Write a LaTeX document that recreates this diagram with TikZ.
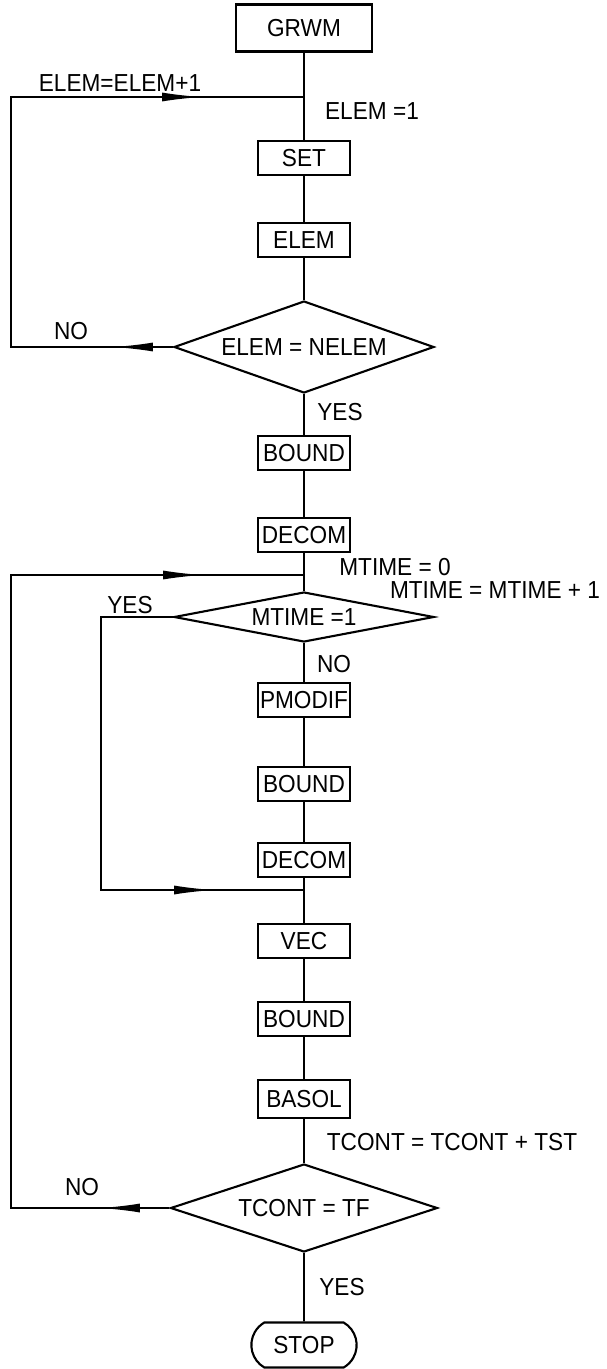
\documentclass[tikz,border=0pt]{standalone}
\usepackage{fontspec}
\setmainfont{Liberation Sans}[FakeStretch=0.92]
\usetikzlibrary{arrows.meta,shapes.geometric,shapes.misc}

\begin{document}
\begin{tikzpicture}[x=0.02cm,y=-0.02cm,
  font=\fontsize{14}{16}\selectfont,
  box/.style={draw,line width=1.2pt,minimum width=1.84cm,minimum height=0.68cm,inner sep=1pt},
  test/.style={draw,diamond,line width=1.2pt,inner sep=0pt},
  line/.style={line width=1pt},
  tip/.style={line width=1pt,-{Latex[length=0.8cm,width=0.18cm]}}]
\useasboundingbox (0,0) rectangle (607,1369);

% Start and element loop
\node[box,minimum width=2.72cm,minimum height=0.94cm] (grwm) at (304,28) {GRWM};
\node[box] (set) at (304,158) {SET};
\node[box] (elem) at (304,240) {ELEM};
\node[test,minimum width=5.2cm,minimum height=1.84cm,aspect=2.8] (nelem) at (304,347) {ELEM = NELEM};
\coordinate (j1) at (304,97);
\coordinate (c1a) at (11,347);
\coordinate (c1b) at (11,97);
\coordinate (t1) at (113,347);
\coordinate (t2) at (202,97);
\draw[line] (grwm) -- (set);
\draw[line] (set) -- (elem);
\draw[line] (elem) -- (nelem);
\draw[line] (nelem.west) -- (c1a) -- (c1b) -- (j1);
\draw[tip] (nelem.west) -- (t1);
\draw[tip] (c1b) -- (t2);
\node (incr) at (120,83) {ELEM=ELEM+1};
\node (init) at (372,111) {ELEM =1};
\node (no1) at (71,331) {NO};
\node (yes1) at (340,412) {YES};

% Time loop
\node[box] (bound1) at (304,453) {BOUND};
\node[box] (decom1) at (304,535) {DECOM};
\node[test,minimum width=5.2cm,minimum height=1.0cm,aspect=5.2] (mtime) at (304,617) {MTIME =1};
\node[box] (pmodif) at (304,700) {PMODIF};
\node[box] (bound2) at (304,784) {BOUND};
\node[box] (decom2) at (304,860) {DECOM};
\node[box] (vec) at (304,941) {VEC};
\node[box] (bound3) at (304,1019) {BOUND};
\node[box,minimum height=0.76cm] (basol) at (304,1099) {BASOL};
\node[test,minimum width=5.34cm,minimum height=1.76cm,aspect=3] (tf) at (304,1208) {TCONT = TF};
\node[draw,rounded rectangle,rounded rectangle arc length=120,line width=1.2pt,
  minimum width=2.34cm,minimum height=0.9cm] (stop) at (304,1345) {STOP};
\draw[line] (nelem) -- (bound1);
\draw[line] (bound1) -- (decom1);
\draw[line] (decom1) -- (mtime);
\draw[line] (mtime) -- (pmodif);
\draw[line] (pmodif) -- (bound2);
\draw[line] (bound2) -- (decom2);
\draw[line] (decom2) -- (vec);
\draw[line] (vec) -- (bound3);
\draw[line] (bound3) -- (basol);
\draw[line] (basol) -- (tf);
\draw[line] (tf) -- (stop);

% Inner branch
\coordinate (j3) at (304,890);
\coordinate (c3a) at (101,617);
\coordinate (c3b) at (101,890);
\coordinate (t3) at (214,890);
\draw[line] (mtime.west) -- (c3a) -- (c3b) -- (j3);
\draw[tip] (c3b) -- (t3);

% Outer loop
\coordinate (j2) at (304,575);
\coordinate (c2a) at (11,1208);
\coordinate (c2b) at (11,575);
\coordinate (t4) at (203,575);
\coordinate (t5) at (100,1208);
\draw[line] (tf.west) -- (c2a) -- (c2b) -- (j2);
\draw[tip] (c2b) -- (t4);
\draw[tip] (tf.west) -- (t5);

\node (mzero) at (395,567) {MTIME = 0};
\node (mincr) at (495,590) {MTIME = MTIME + 1};
\node (yes2) at (130,605) {YES};
\node (no2) at (334,664) {NO};
\node (tincr) at (452,1142) {TCONT = TCONT + TST};
\node (no3) at (82,1187) {NO};
\node (yes3) at (342,1287) {YES};
\end{tikzpicture}
\end{document}
